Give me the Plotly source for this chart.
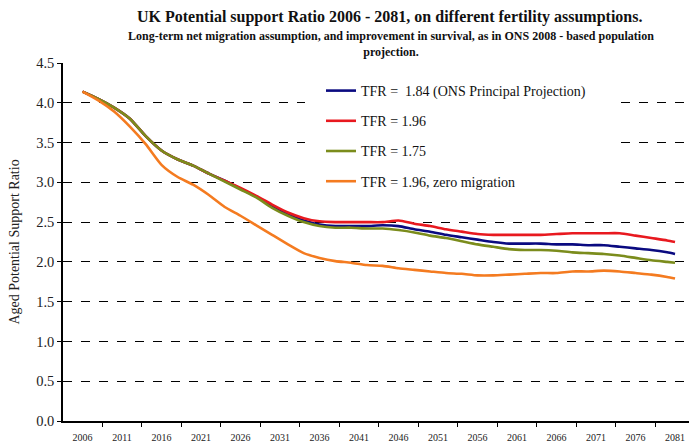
import plotly.graph_objects as go

years = [2006, 2008, 2010, 2012, 2014, 2016, 2018, 2020, 2022, 2024, 2026, 2028, 2030,
         2032, 2034, 2036, 2038, 2040, 2042, 2044, 2046, 2048, 2050, 2052, 2054, 2056,
         2058, 2060, 2062, 2064, 2066, 2068, 2070, 2072, 2074, 2076, 2078, 2080, 2081]

tfr_184 = [4.14, 4.05, 3.94, 3.80, 3.58, 3.40, 3.29, 3.21, 3.11, 3.02, 2.92, 2.82, 2.70,
           2.60, 2.52, 2.47, 2.45, 2.45, 2.45, 2.46, 2.45, 2.41, 2.38, 2.34, 2.31, 2.28,
           2.25, 2.23, 2.23, 2.23, 2.22, 2.22, 2.21, 2.21, 2.19, 2.17, 2.15, 2.12, 2.10]
tfr_196 = [4.14, 4.05, 3.94, 3.80, 3.58, 3.40, 3.29, 3.21, 3.11, 3.02, 2.93, 2.83, 2.72,
           2.62, 2.55, 2.51, 2.50, 2.50, 2.50, 2.50, 2.52, 2.48, 2.45, 2.41, 2.38, 2.35,
           2.34, 2.34, 2.34, 2.34, 2.35, 2.36, 2.36, 2.36, 2.36, 2.33, 2.30, 2.27, 2.25]
tfr_175 = [4.14, 4.05, 3.94, 3.80, 3.58, 3.40, 3.29, 3.21, 3.11, 3.01, 2.91, 2.81, 2.68,
           2.58, 2.50, 2.45, 2.43, 2.43, 2.42, 2.42, 2.40, 2.37, 2.33, 2.30, 2.26, 2.22,
           2.19, 2.16, 2.15, 2.15, 2.14, 2.12, 2.11, 2.10, 2.08, 2.05, 2.02, 2.00, 1.99]
tfr_196_zero = [4.14, 4.03, 3.89, 3.70, 3.48, 3.22, 3.07, 2.97, 2.84, 2.69, 2.58, 2.46, 2.34,
                2.22, 2.11, 2.05, 2.01, 1.99, 1.96, 1.95, 1.92, 1.90, 1.88, 1.86, 1.85, 1.83,
                1.83, 1.84, 1.85, 1.86, 1.86, 1.88, 1.88, 1.89, 1.88, 1.86, 1.84, 1.81, 1.79]

series_names = ["TFR =  1.84 (ONS Principal Projection)", "TFR = 1.96", "TFR = 1.75",
                "TFR = 1.96, zero migration"]
series_values = [tfr_184, tfr_196, tfr_175, tfr_196_zero]
colors = ["#0a0a80", "#e8191f", "#7b8c1c", "#f47b20"]

tick_years = list(range(2006, 2082, 5))
tick_labels = [str(y) for y in tick_years]
y_ticks = [0.0, 0.5, 1.0, 1.5, 2.0, 2.5, 3.0, 3.5, 4.0, 4.5]

SERIF = "Liberation Serif, Times New Roman, Times, serif"

L, R, T, B = 63, 0, 63, 27
W, H = 689, 448

fig = go.Figure()
for i, (name, vals, col) in enumerate(zip(series_names, series_values, colors)):
    fig.add_trace(go.Scatter(x=years, y=vals, mode="lines", name=name,
                             legendgroup=f"g{i}",
                             line=dict(color=col, width=2.6, shape="spline", smoothing=0.6)))


def px_x(p):
    return (p - L) / (W - L - R)


def px_y(p):
    return (H - B - p) / (H - T - B)


fig.update_layout(
    width=W, height=H,
    margin=dict(l=L, r=R, t=T, b=B, autoexpand=False),
    paper_bgcolor="white", plot_bgcolor="white",
    font=dict(family=SERIF, color="#222222"),
    showlegend=True,
    legend=dict(x=px_x(321), y=px_y(75), xanchor="left", yanchor="top",
                bgcolor="white", font=dict(family=SERIF, size=14, color="#111111"),
                tracegroupgap=9, itemwidth=30),
    xaxis=dict(range=[2003.53, 2082.77], tickmode="array", tickvals=tick_years,
               ticktext=tick_labels, ticks="outside", ticklen=6, automargin=False,
               tickcolor="rgba(0,0,0,0)", showgrid=False, zeroline=False,
               showline=True, linecolor="black", linewidth=1.5,
               tickfont=dict(family=SERIF, size=10, color="#222222"),
               minor=dict(tick0=2008.5, dtick=5, ticks="outside", ticklen=4,
                          tickcolor="black", showgrid=False)),
    yaxis=dict(range=[0, 4.5], tickmode="array", tickvals=y_ticks, automargin=False,
               ticktext=[f"{v:.1f}" for v in y_ticks], ticks="outside", ticklen=4,
               tickcolor="black", showgrid=True, gridcolor="black", griddash="dash",
               gridwidth=1, zeroline=False, showline=True, linecolor="black",
               linewidth=1.5, tickfont=dict(family=SERIF, size=14.5, color="#222222"),
               title=dict(text="Aged Potential Support Ratio",
                          font=dict(family=SERIF, size=14, color="#222222"), standoff=13)),
    shapes=[
        # white legend box area that interrupts the gridlines (as in the original)
        dict(type="rect", xref="paper", yref="paper", layer="above",
             x0=px_x(305), x1=px_x(613), y0=px_y(200), y1=px_y(74),
             fillcolor="white", line=dict(width=0)),
    ],
    annotations=[
        dict(text="<b>UK Potential support Ratio 2006 - 2081, on different fertility assumptions.</b>",
             x=px_x(389), y=px_y(17), xref="paper", yref="paper", showarrow=False,
             xanchor="center", yanchor="middle",
             font=dict(family=SERIF, size=16, color="#111111")),
        dict(text="<b>Long-term net migration assumption, and improvement in survival, as in ONS 2008 - based population</b><br><b>projection.</b>",
             x=px_x(391), y=px_y(44), xref="paper", yref="paper", showarrow=False,
             xanchor="center", yanchor="middle",
             font=dict(family=SERIF, size=12, color="#111111")),
    ],
)

fig.write_html("out.html", config={"displayModeBar": False},
               post_script="document.body.style.margin='0';document.body.style.padding='0';")
